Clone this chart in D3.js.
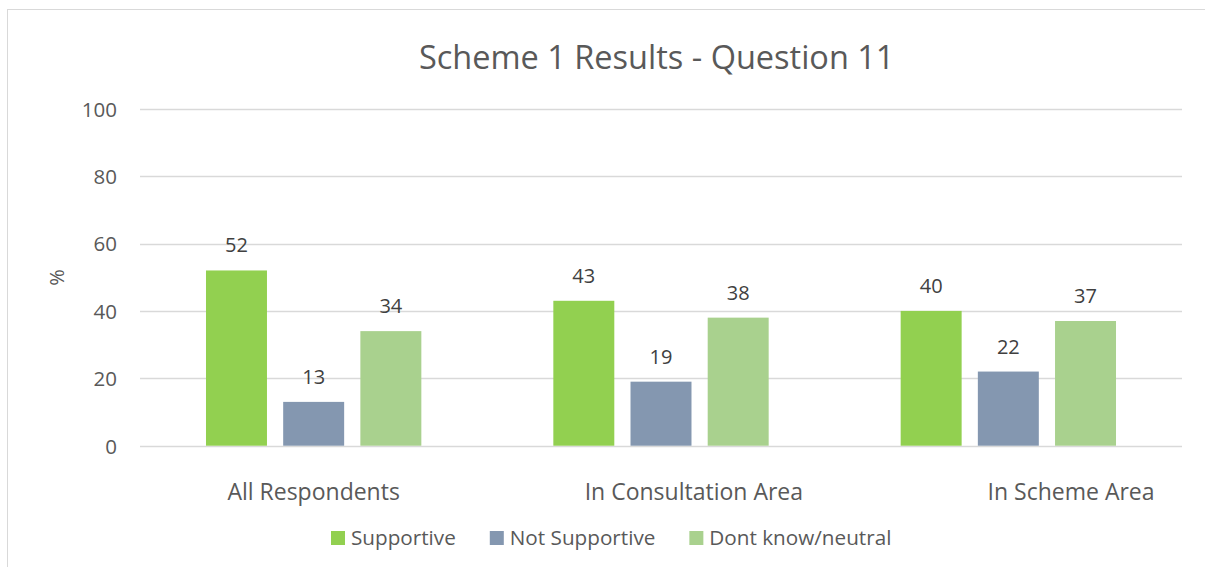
<!DOCTYPE html>
<html>
<head>
<meta charset="utf-8">
<script src="https://cdn.jsdelivr.net/npm/d3@7"></script>
<style>
  html, body { margin: 0; padding: 0; background: #fff; }
  svg { display: block; font-family: "Open Sans", "Noto Sans", sans-serif; }
  .cat-label { white-space: pre; }
</style>
</head>
<body>
<svg id="chart" width="1205" height="567"></svg>
<script>
// Survey results, percent of respondents per group
const categories = ["All Respondents", "           In Consultation Area", "                     In Scheme Area"];
const seriesNames = ["Supportive", "Not Supportive", "Dont know/neutral"];
const supportive = [52, 43, 40];
const notSupportive = [13, 19, 22];
const dontKnow = [34, 38, 37];
const yTicks = [0, 20, 40, 60, 80, 100];
const colors = ["#92D050", "#8497B0", "#A9D18E"];
const titleText = "Scheme 1 Results - Question 11";
const yAxisTitle = "%";

const seriesValues = [supportive, notSupportive, dontKnow];

const svg = d3.select("#chart");
const plot = { left: 140, right: 1182, top: 108.7, bottom: 445.7 };

// chart frame
svg.append("rect")
  .attr("x", 7.5).attr("y", 9.5)
  .attr("width", 1215).attr("height", 600)
  .attr("fill", "#fff").attr("stroke", "#D9D9D9").attr("stroke-width", 1);

const x0 = d3.scaleBand()
  .domain(d3.range(categories.length))
  .range([plot.left, plot.right])
  .paddingInner(0.38)
  .paddingOuter(0.19);

const x1 = d3.scaleBand()
  .domain(d3.range(seriesNames.length))
  .range([0, x0.bandwidth()])
  .paddingInner(0.21);

const y = d3.scaleLinear().domain([0, 100]).range([plot.bottom, plot.top]);

// gridlines
svg.append("g")
  .selectAll("line")
  .data(yTicks)
  .join("line")
  .attr("x1", plot.left).attr("x2", plot.right)
  .attr("y1", d => Math.round(y(d)) + 0.5).attr("y2", d => Math.round(y(d)) + 0.5)
  .attr("stroke", "#D9D9D9").attr("stroke-width", 1.3);

// y tick labels
const yAxis = d3.axisLeft(y).tickValues(yTicks).tickSize(0).tickPadding(0);
const yg = svg.append("g").attr("transform", `translate(117,0)`).call(yAxis);
yg.select(".domain").remove();
yg.selectAll("text")
  .attr("fill", "#595959")
  .attr("font-size", 20.5)
  .attr("font-family", "'Open Sans', 'Noto Sans', sans-serif")
  .attr("dy", "0.36em");

// y axis title
svg.append("text")
  .attr("transform", "translate(64,277.5) rotate(-90)")
  .attr("text-anchor", "middle")
  .attr("fill", "#595959")
  .attr("font-size", 20)
  .text(yAxisTitle);

// bars
const groups = svg.append("g")
  .selectAll("g")
  .data(categories.map((c, i) => i))
  .join("g")
  .attr("transform", i => `translate(${x0(i)},0)`);

groups.selectAll("rect")
  .data(i => seriesValues.map((vals, s) => ({ s, v: vals[i] })))
  .join("rect")
  .attr("x", d => x1(d.s))
  .attr("y", d => y(d.v))
  .attr("width", x1.bandwidth())
  .attr("height", d => y(0) - y(d.v))
  .attr("fill", d => colors[d.s]);

// data labels
groups.selectAll("text")
  .data(i => seriesValues.map((vals, s) => ({ s, v: vals[i] })))
  .join("text")
  .attr("x", d => x1(d.s) + x1.bandwidth() / 2)
  .attr("y", d => y(d.v) - 18)
  .attr("text-anchor", "middle")
  .attr("fill", "#404040")
  .attr("font-size", 20)
  .text(d => d.v);

// category labels
svg.append("g")
  .selectAll("text")
  .data(categories)
  .join("text")
  .attr("class", "cat-label")
  .attr("x", (d, i) => x0(i) + x0.bandwidth() / 2)
  .attr("y", 500)
  .attr("text-anchor", "middle")
  .attr("fill", "#595959")
  .attr("font-size", 23)
  .text(d => d);

// title
svg.append("text")
  .attr("x", 656.7)
  .attr("y", 69.3)
  .attr("text-anchor", "middle")
  .attr("fill", "#595959")
  .attr("font-size", 32.5)
  .text(titleText);

// legend
const legend = svg.append("g").attr("transform", "translate(331,0)");
let lx = 0;
seriesNames.forEach((name, s) => {
  const item = legend.append("g").attr("transform", `translate(${lx},0)`);
  item.append("rect")
    .attr("x", 0).attr("y", 531)
    .attr("width", 14).attr("height", 14)
    .attr("fill", colors[s]);
  const t = item.append("text")
    .attr("x", 20).attr("y", 545)
    .attr("fill", "#595959")
    .attr("font-size", 20.7)
    .text(name);
  lx += 20 + t.node().getComputedTextLength() + 34;
});
</script>
</body>
</html>
